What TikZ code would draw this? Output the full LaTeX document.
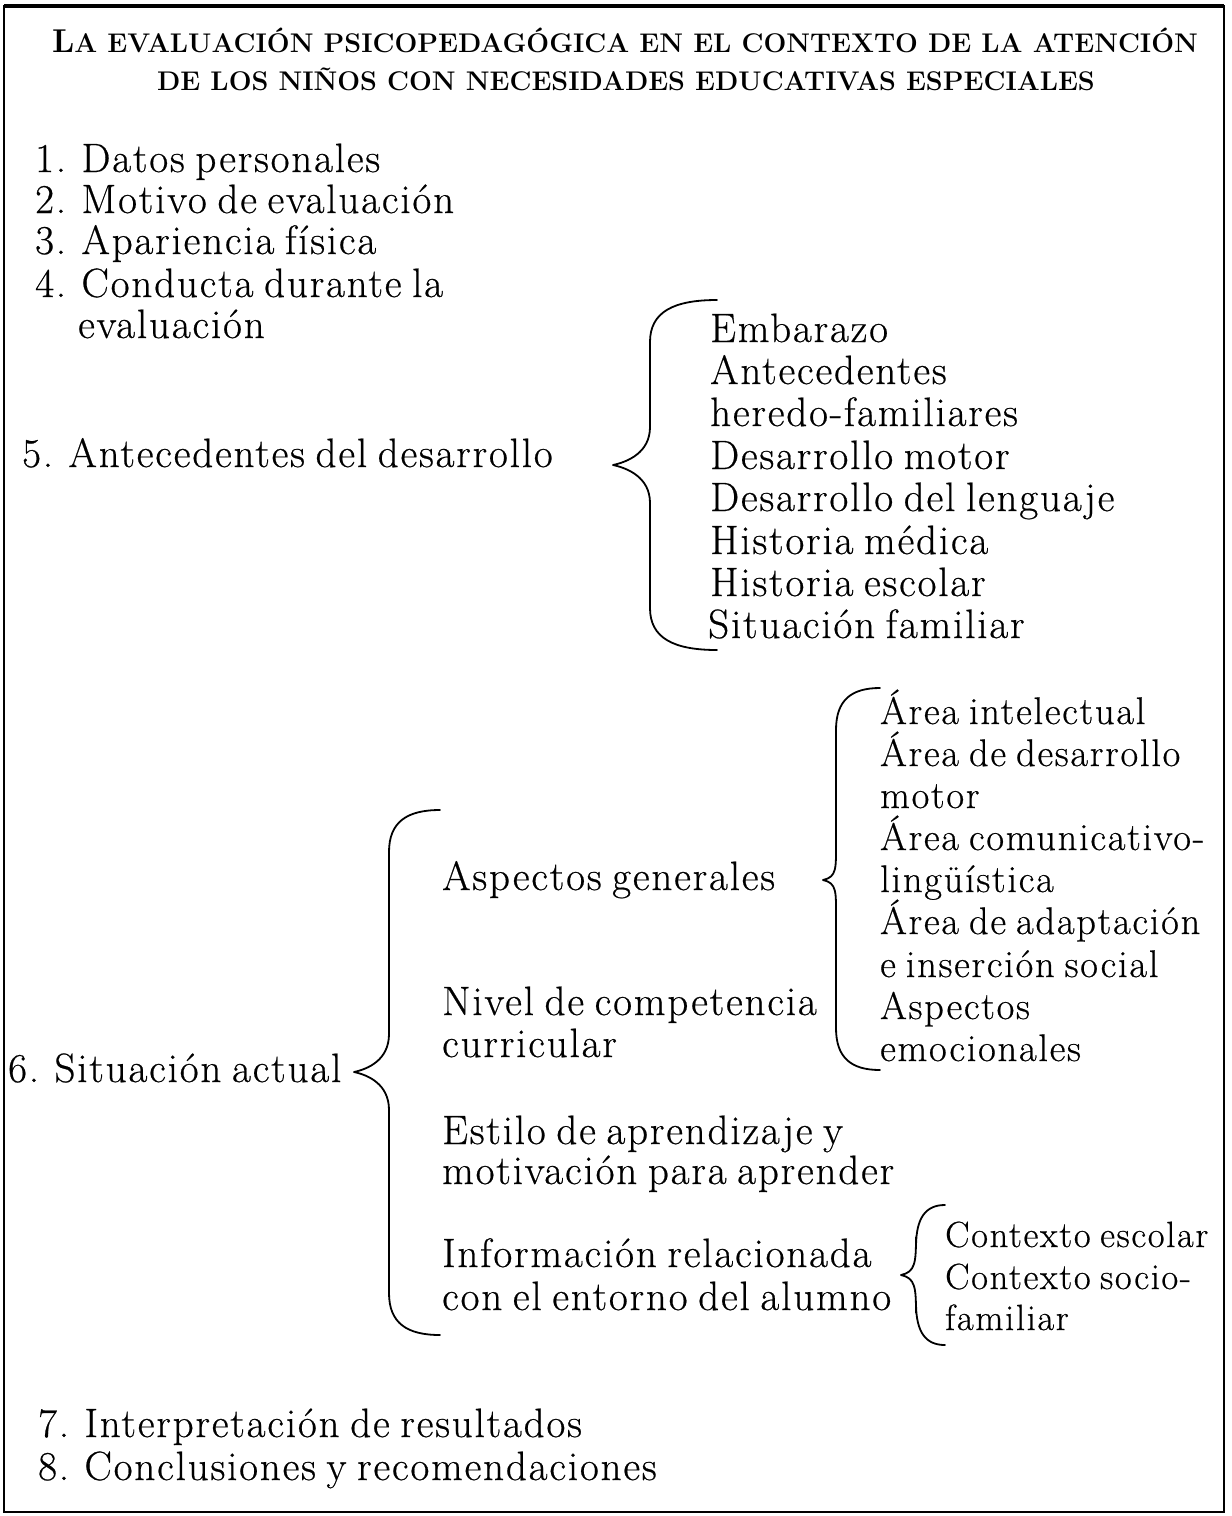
\documentclass[tikz,border=0pt]{standalone}
\usepackage{fontspec}
\newfontfamily\bodyfont{Latin Modern Roman}[LetterSpace=4.5,FakeBold=0.5,WordSpace=0.75]
\newcommand\curlybrace[6]{% tipx, tipy, linex, endx, topy, boty
  \draw[brc] (#4,#5) .. controls ({#3+0.35*(#4-#3)},#5) and (#3,{#5+12}) .. (#3,{#5+42})
    -- (#3,{#2-38}) .. controls (#3,{#2-12}) and ({#1+14},{#2-3}) .. (#1,#2)
    .. controls ({#1+14},{#2+3}) and (#3,{#2+12}) .. (#3,{#2+38})
    -- (#3,{#6-42}) .. controls (#3,{#6-12}) and ({#3+0.35*(#4-#3)},#6) .. (#4,#6);}
\begin{document}
\begin{tikzpicture}[x=1pt,y=-1pt,
  txt/.style={anchor=base west, inner sep=0pt, font=\bodyfont\fontsize{41}{42}\selectfont},
  txtb/.style={txt, font=\bodyfont\fontsize{38.5}{42}\selectfont},
  txtc/.style={txt, font=\bodyfont\fontsize{36.5}{42}\selectfont},
  ttl/.style={anchor=base, inner sep=0pt, font=\bfseries\fontsize{27}{30}\selectfont},
  brc/.style={line width=1.8pt, line cap=round, line join=round},
  frame/.style={line width=2.5pt}]
\useasboundingbox (0,0) rectangle (1232,1516);
\draw[frame] (4,6) rectangle (1224,1512);
\draw[line width=3.5pt] (4,6) -- (1224,6);
% title
\node[ttl] (t1) at (625,52) {{\fontsize{33}{34}\selectfont L}A EVALUACIÓN PSICOPEDAGÓGICA EN EL CONTEXTO DE LA ATENCIÓN};
\node[ttl] (t2) at (626,90) {DE LOS NIÑOS CON NECESIDADES EDUCATIVAS ESPECIALES};
% left list
\node[txt] (i1) at (35,172) {1. Datos personales};
\node[txt] (i2) at (35,213) {2. Motivo de evaluación};
\node[txt] (i3) at (35,254) {3. Apariencia física};
\node[txt] (i4) at (35,297) {4. Conducta durante la};
\node[txt] (i4b) at (78,338) {evaluación};
\node[txt] (i5) at (22,467) {5. Antecedentes del desarrollo};
% sub list 5
\node[txt] (a1) at (710,342) {Embarazo};
\node[txt] (a2) at (710,384) {Antecedentes};
\node[txt] (a3) at (710,426) {heredo-familiares};
\node[txt] (a4) at (710,469) {Desarrollo motor};
\node[txt] (a5) at (710,511) {Desarrollo del lenguaje};
\node[txt] (a6) at (710,554) {Historia médica};
\node[txt] (a7) at (710,596) {Historia escolar};
\node[txt] (a8) at (708,638) {Situación familiar};
\curlybrace{613}{465}{650}{717}{300}{650}
% 6
\node[txt] (i6) at (8,1082) {6. Situación actual};
\node[txt] (s1) at (442,890) {Aspectos generales};
\node[txt] (s2) at (442,1015) {Nivel de competencia};
\node[txt] (s2b) at (442,1057) {curricular};
\node[txt] (s3) at (442,1144) {Estilo de aprendizaje y};
\node[txt] (s3b) at (442,1184) {motivación para aprender};
\node[txt] (s4) at (442,1267) {Información relacionada};
\node[txt] (s4b) at (442,1310) {con el entorno del alumno};
\curlybrace{354}{1072}{389}{440}{810}{1335}
% areas
\node[txtb] (b1) at (880,724) {Área intelectual};
\node[txtb] (b2) at (880,766) {Área de desarrollo};
\node[txtb] (b3) at (880,808) {motor};
\node[txtb] (b4) at (880,850) {Área comunicativo-};
\node[txtb] (b5) at (880,892) {lingüística};
\node[txtb] (b6) at (880,934) {Área de adaptación};
\node[txtb] (b7) at (880,977) {e inserción social};
\node[txtb] (b8) at (880,1019) {Aspectos};
\node[txtb] (b9) at (880,1061) {emocionales};
\curlybrace{823}{880}{836}{880}{688}{1070}
% contexto
\node[txtc] (c1) at (945,1247) {Contexto escolar};
\node[txtc] (c2) at (945,1289) {Contexto socio-};
\node[txtc] (c3) at (945,1330) {familiar};
\curlybrace{901}{1275}{916}{945}{1205}{1345}
% 7 8
\node[txt] (i7) at (38,1437) {7. Interpretación de resultados};
\node[txt] (i8) at (38,1480) {8. Conclusiones y recomendaciones};
\end{tikzpicture}
\end{document}
